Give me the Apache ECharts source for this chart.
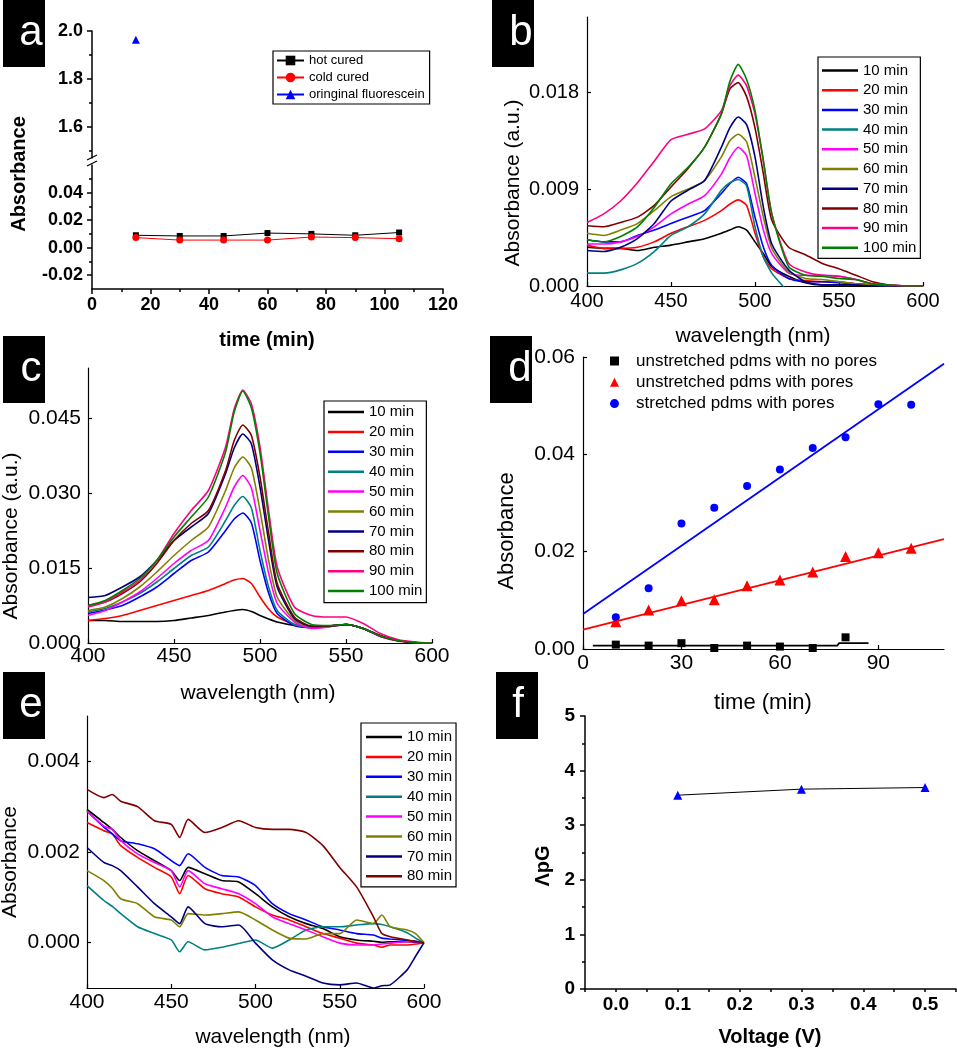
<!DOCTYPE html>
<html>
<head>
<meta charset="utf-8">
<script src="https://cdn.jsdelivr.net/npm/echarts@6/dist/echarts.min.js"></script>
<style>
html, body { margin: 0; padding: 0; background: #fff; }
#main { width: 957px; height: 1050px; }
</style>
</head>
<body>
<div id="main"></div>
<script>
// (a) absorbance vs time
var timeA = [15, 30, 45, 60, 75, 90, 105];
var hotCured = [0.0090, 0.0085, 0.0085, 0.0106, 0.0100, 0.0090, 0.0110];
var coldCured = [0.0073, 0.0055, 0.0055, 0.0055, 0.0077, 0.0073, 0.0065];
var fluorTime = [15];
var fluorAbs = [1.964];

// (b), (c) spectra
var minuteNames = ['10 min', '20 min', '30 min', '40 min', '50 min', '60 min', '70 min', '80 min', '90 min', '100 min'];
var curveColors = ['#000000', '#ff0000', '#0000ff', '#008080', '#ff00ff', '#808000', '#000080', '#800000', '#ff0080', '#008000'];
var wlBC = [400, 410, 420, 430, 440, 450, 460, 470, 480, 485, 490, 495, 500, 505, 510, 520, 530, 540, 550, 560, 570, 580, 590, 600];

var b10 = [0.0036, 0.0035, 0.0035, 0.0033, 0.0036, 0.0038, 0.0041, 0.0044, 0.0049, 0.0052, 0.0055, 0.0052, 0.0041, 0.0030, 0.0018, 0.0009, 0.0003, 0.0001, 0.0001, 0.0001, 0.0000, 0.0000, 0.0000, 0.0000];
var b20 = [0.0038, 0.0035, 0.0035, 0.0036, 0.0041, 0.0049, 0.0055, 0.0061, 0.0070, 0.0076, 0.0080, 0.0075, 0.0049, 0.0027, 0.0016, 0.0007, 0.0005, 0.0004, 0.0004, 0.0002, 0.0001, 0.0000, 0.0000, 0.0000];
var b30 = [0.0043, 0.0041, 0.0041, 0.0047, 0.0052, 0.0058, 0.0064, 0.0070, 0.0086, 0.0095, 0.0101, 0.0095, 0.0064, 0.0036, 0.0019, 0.0007, 0.0004, 0.0004, 0.0003, 0.0002, 0.0001, 0.0000, 0.0000, 0.0000];
var b40 = [0.0012, 0.0012, 0.0015, 0.0021, 0.0032, 0.0047, 0.0055, 0.0067, 0.0089, 0.0096, 0.0099, 0.0093, 0.0055, 0.0027, 0.0012, -0.0006, null, null, null, null, null, null, null, null];
var b50 = [0.0039, 0.0039, 0.0041, 0.0046, 0.0055, 0.0067, 0.0076, 0.0084, 0.0104, 0.0119, 0.0129, 0.0121, 0.0086, 0.0052, 0.0030, 0.0012, 0.0010, 0.0010, 0.0009, 0.0006, 0.0002, 0.0001, 0.0000, 0.0000];
var b60 = [0.0049, 0.0047, 0.0052, 0.0058, 0.0070, 0.0083, 0.0090, 0.0098, 0.0120, 0.0135, 0.0141, 0.0134, 0.0101, 0.0064, 0.0035, 0.0013, 0.0007, 0.0006, 0.0004, 0.0002, 0.0001, 0.0000, 0.0000, 0.0000];
var b70 = [0.0033, 0.0032, 0.0036, 0.0044, 0.0058, 0.0079, 0.0089, 0.0098, 0.0129, 0.0147, 0.0157, 0.0150, 0.0120, 0.0073, 0.0039, 0.0015, 0.0004, 0.0001, 0.0001, 0.0001, 0.0000, 0.0000, 0.0000, 0.0000];
var b80 = [0.0056, 0.0055, 0.0059, 0.0064, 0.0075, 0.0092, 0.0109, 0.0129, 0.0160, 0.0183, 0.0189, 0.0176, 0.0147, 0.0104, 0.0061, 0.0036, 0.0029, 0.0021, 0.0016, 0.0010, 0.0004, 0.0001, 0.0000, 0.0000];
var b90 = [0.0059, 0.0067, 0.0079, 0.0096, 0.0116, 0.0136, 0.0141, 0.0146, 0.0163, 0.0186, 0.0196, 0.0186, 0.0160, 0.0116, 0.0067, 0.0021, 0.0013, 0.0010, 0.0009, 0.0006, 0.0002, 0.0001, 0.0000, 0.0000];
var b100 = [0.0043, 0.0041, 0.0046, 0.0055, 0.0073, 0.0095, 0.0110, 0.0129, 0.0160, 0.0190, 0.0206, 0.0192, 0.0163, 0.0116, 0.0067, 0.0018, 0.0010, 0.0009, 0.0007, 0.0006, 0.0002, 0.0001, 0.0000, 0.0000];

var c10 = [0.0045, 0.0045, 0.0043, 0.0043, 0.0043, 0.0045, 0.0050, 0.0055, 0.0062, 0.0065, 0.0067, 0.0063, 0.0055, 0.0048, 0.0042, 0.0035, 0.0032, 0.0034, 0.0037, 0.0029, 0.0015, 0.0005, 0.0001, 0.0000];
var c20 = [0.0045, 0.0049, 0.0055, 0.0065, 0.0075, 0.0085, 0.0095, 0.0105, 0.0119, 0.0126, 0.0129, 0.0119, 0.0092, 0.0068, 0.0052, 0.0037, 0.0032, 0.0034, 0.0037, 0.0029, 0.0013, 0.0004, 0.0001, 0.0000];
var c30 = [0.0059, 0.0066, 0.0075, 0.0092, 0.0112, 0.0139, 0.0165, 0.0182, 0.0225, 0.0248, 0.0260, 0.0240, 0.0165, 0.0100, 0.0059, 0.0035, 0.0031, 0.0033, 0.0037, 0.0029, 0.0014, 0.0005, 0.0001, 0.0000];
var c40 = [0.0062, 0.0069, 0.0082, 0.0099, 0.0122, 0.0149, 0.0175, 0.0192, 0.0245, 0.0275, 0.0293, 0.0270, 0.0185, 0.0112, 0.0065, 0.0037, 0.0031, 0.0033, 0.0037, 0.0029, 0.0014, 0.0005, 0.0001, 0.0000];
var c50 = [0.0055, 0.0065, 0.0082, 0.0102, 0.0129, 0.0159, 0.0185, 0.0205, 0.0272, 0.0312, 0.0335, 0.0310, 0.0225, 0.0140, 0.0079, 0.0042, 0.0029, 0.0032, 0.0037, 0.0029, 0.0013, 0.0005, 0.0001, 0.0000];
var c60 = [0.0065, 0.0072, 0.0089, 0.0112, 0.0142, 0.0175, 0.0205, 0.0232, 0.0305, 0.0350, 0.0372, 0.0350, 0.0265, 0.0165, 0.0092, 0.0045, 0.0032, 0.0033, 0.0037, 0.0029, 0.0014, 0.0005, 0.0001, 0.0000];
var c70 = [0.0091, 0.0095, 0.0112, 0.0132, 0.0165, 0.0205, 0.0232, 0.0259, 0.0339, 0.0390, 0.0418, 0.0398, 0.0312, 0.0205, 0.0112, 0.0049, 0.0033, 0.0034, 0.0037, 0.0029, 0.0014, 0.0005, 0.0001, 0.0000];
var c80 = [0.0075, 0.0082, 0.0099, 0.0122, 0.0159, 0.0205, 0.0239, 0.0265, 0.0345, 0.0405, 0.0436, 0.0415, 0.0332, 0.0220, 0.0119, 0.0052, 0.0034, 0.0034, 0.0037, 0.0029, 0.0014, 0.0005, 0.0001, 0.0000];
var c90 = [0.0072, 0.0082, 0.0102, 0.0125, 0.0165, 0.0219, 0.0265, 0.0305, 0.0392, 0.0468, 0.0506, 0.0478, 0.0392, 0.0265, 0.0152, 0.0072, 0.0055, 0.0052, 0.0052, 0.0039, 0.0019, 0.0007, 0.0002, 0.0000];
var c100 = [0.0075, 0.0085, 0.0105, 0.0129, 0.0165, 0.0212, 0.0252, 0.0292, 0.0382, 0.0462, 0.0504, 0.0470, 0.0380, 0.0252, 0.0139, 0.0059, 0.0037, 0.0035, 0.0037, 0.0029, 0.0014, 0.0005, 0.0001, 0.0000];

// (d) absorbance vs time, three membranes
var timeD = [10, 20, 30, 40, 50, 60, 70, 80, 90, 100];
var noPores = [0.0009, 0.0007, 0.0012, 0.0002, 0.0007, 0.0005, 0.0002, 0.0024];
var poresUnstretched = [0.0056, 0.0080, 0.0099, 0.0101, 0.0130, 0.0142, 0.0158, 0.0190, 0.0198, 0.0207];
var poresStretched = [0.0065, 0.0125, 0.0258, 0.0290, 0.0335, 0.0369, 0.0413, 0.0435, 0.0503, 0.0502];
var fitNoPoresX = [3, 77.5, 78, 87];
var fitNoPoresY = [0.0007, 0.0007, 0.0012, 0.0012];
var fitUnstretchedX = [0, 110];
var fitUnstretchedY = [0.0040, 0.0226];
var fitStretchedX = [0, 110];
var fitStretchedY = [0.0072, 0.0586];
var dNames = ['unstretched pdms with no pores', 'unstretched pdms with pores', 'stretched pdms with pores'];

// (e) spectra
var wlE = [400, 410, 415, 420, 430, 440, 450, 455, 460, 470, 480, 490, 500, 510, 520, 530, 540, 550, 560, 570, 575, 580, 590, 595, 600];
var e10 = [0.00294, 0.00265, 0.00250, 0.00232, 0.00203, 0.00181, 0.00159, 0.00137, 0.00166, 0.00152, 0.00137, 0.00134, 0.00108, 0.00079, 0.00057, 0.00042, 0.00031, 0.00013, 0.00006, 0.00003, 0.00001, 0.00002, 0.00002, 0.00001, 0.0];
var e20 = [0.00265, 0.00247, 0.00240, 0.00214, 0.00188, 0.00166, 0.00145, 0.00108, 0.00148, 0.00119, 0.00108, 0.00101, 0.00079, 0.00061, 0.00050, 0.00035, 0.00020, 0.00010, -0.00001, -0.00005, -0.00010, -0.00005, -0.00005, -0.00003, 0.0];
var e30 = [0.00290, 0.00255, 0.00240, 0.00225, 0.00218, 0.00207, 0.00181, 0.00170, 0.00196, 0.00166, 0.00148, 0.00145, 0.00126, 0.00086, 0.00064, 0.00050, 0.00035, 0.00028, 0.00020, 0.00017, 0.00010, 0.00008, 0.00005, 0.00003, 0.0];
var e40 = [0.00126, 0.00093, 0.00080, 0.00064, 0.00035, 0.00020, 0.00006, -0.00020, 0.00002, -0.00016, -0.00010, -0.00002, 0.00006, -0.00012, 0.00006, 0.00028, 0.00035, 0.00035, 0.00039, 0.00042, 0.00040, 0.00035, 0.00022, 0.00010, 0.0];
var e50 = [0.00290, 0.00257, 0.00250, 0.00225, 0.00196, 0.00177, 0.00159, 0.00123, 0.00159, 0.00130, 0.00119, 0.00108, 0.00086, 0.00057, 0.00042, 0.00028, 0.00013, -0.00001, -0.00005, -0.00005, -0.00003, -0.00001, 0.00002, 0.00002, 0.0];
var e60 = [0.00159, 0.00137, 0.00120, 0.00097, 0.00086, 0.00057, 0.00050, 0.00035, 0.00064, 0.00061, 0.00064, 0.00068, 0.00050, 0.00028, 0.00010, 0.00008, 0.00020, 0.00020, 0.00050, 0.00042, 0.00061, 0.00035, 0.00028, 0.00020, 0.0];
var e70 = [0.00210, 0.00177, 0.00170, 0.00159, 0.00123, 0.00086, 0.00057, 0.00042, 0.00079, 0.00042, 0.00035, 0.00039, -0.00001, -0.00038, -0.00060, -0.00074, -0.00089, -0.00093, -0.00089, -0.00100, -0.00095, -0.00093, -0.00060, -0.00030, 0.0];
var e80 = [0.00338, 0.00320, 0.00327, 0.00312, 0.00300, 0.00269, 0.00261, 0.00232, 0.00272, 0.00243, 0.00254, 0.00269, 0.00254, 0.00250, 0.00250, 0.00243, 0.00214, 0.00166, 0.00123, 0.00057, 0.00020, 0.00013, 0.00006, 0.00003, 0.0];

// (f) delta pG vs voltage
var voltage = [0.1, 0.3, 0.5];
var dpg = [3.55, 3.66, 3.69];

var FONT = '"Liberation Sans", Arial, sans-serif';

function pairs(xs, ys) {
    return xs.map(function (x, i) { return [x, ys[i]]; });
}

function fixed(n) {
    return function (v) { return Number(v).toFixed(n); };
}

function mkAxis(p) {
    var lw = p.lw || 1.2;
    var ax = {
        gridIndex: p.grid,
        type: 'value',
        min: p.min,
        max: p.max,
        show: p.show !== false,
        splitLine: { show: false },
        axisLine: { show: p.line !== false, onZero: false, lineStyle: { color: '#000', width: lw } },
        axisTick: { show: true, inside: !!p.inside, length: p.tickLen || 4, lineStyle: { color: '#000', width: lw } },
        axisLabel: {
            show: !!p.fmt,
            color: '#000',
            fontFamily: FONT,
            fontSize: p.fs || 20,
            fontWeight: p.bold ? 'bold' : 'normal',
            margin: p.margin || 6,
            formatter: p.fmt
        }
    };
    if (p.pos) ax.position = p.pos;
    if (p.interval != null) ax.interval = p.interval;
    if (p.ticks) ax.axisTick.customValues = p.ticks;
    if (p.labels) ax.axisLabel.customValues = p.labels;
    if (p.minor) {
        ax.minorTick = { show: true, splitNumber: p.minor, length: 3, lineStyle: { color: '#000', width: lw } };
    }
    return ax;
}

var chart = echarts.init(document.getElementById('main'));

var grids = [
    { left: 92, top: 31, width: 351, height: 127 },   // a top
    { left: 92, top: 165, width: 351, height: 124 },  // a bottom
    { left: 587, top: 17, width: 336, height: 269 },  // b
    { left: 88, top: 368, width: 344, height: 275 },  // c
    { left: 583, top: 357, width: 361, height: 292 }, // d
    { left: 87, top: 716, width: 337, height: 272 },  // e
    { left: 585, top: 716, width: 371, height: 273 }  // f
];
grids.forEach(function (g) { g.outerBoundsMode = 'none'; g.containLabel = false; });

var xAxes = [
    mkAxis({ grid: 0, min: 0, max: 120, show: false }),
    mkAxis({ grid: 1, min: 0, max: 120, interval: 20, minor: 2, tickLen: 5, lw: 1.5, fmt: fixed(0), bold: true, fs: 18, margin: 7 }),
    mkAxis({ grid: 2, min: 400, max: 600, interval: 50, inside: true, fmt: fixed(0), fs: 20, margin: 5 }),
    mkAxis({ grid: 3, min: 400, max: 600, interval: 50, inside: true, fmt: fixed(0), fs: 21, margin: 3 }),
    mkAxis({ grid: 4, min: 0, max: 110, ticks: [0, 30, 60, 90], labels: [0, 30, 60, 90], inside: true, fmt: fixed(0), fs: 21, margin: 4 }),
    mkAxis({ grid: 5, min: 400, max: 600, interval: 50, inside: true, fmt: fixed(0), fs: 21, margin: 4 }),
    mkAxis({ grid: 6, min: -0.05, max: 0.55, interval: 0.05, labels: [0, 0.1, 0.2, 0.3, 0.4, 0.5], tickLen: 3, lw: 1.5, fmt: fixed(1), bold: true, fs: 19, margin: 6 })
];

var yAxes = [
    mkAxis({ grid: 0, pos: 'left', min: 1.47, max: 2.0, ticks: [1.6, 1.8, 2.0], labels: [1.6, 1.8, 2.0], tickLen: 5, lw: 1.5, fmt: fixed(1), bold: true, fs: 18, margin: 9 }),
    mkAxis({ grid: 0, pos: 'left', min: 1.47, max: 2.0, ticks: [1.5, 1.7, 1.9], line: false, tickLen: 3, lw: 1.5 }),
    mkAxis({ grid: 1, pos: 'left', min: -0.03, max: 0.06, ticks: [-0.02, 0, 0.02, 0.04], labels: [-0.02, 0, 0.02, 0.04], tickLen: 5, lw: 1.5, fmt: fixed(2), bold: true, fs: 18, margin: 9 }),
    mkAxis({ grid: 1, pos: 'left', min: -0.03, max: 0.06, ticks: [-0.01, 0.01, 0.03, 0.05], line: false, tickLen: 3, lw: 1.5 }),
    mkAxis({ grid: 2, pos: 'left', min: 0, max: 0.025, ticks: [0, 0.009, 0.018], labels: [0, 0.009, 0.018], inside: true, fmt: fixed(3), fs: 20, margin: 8 }),
    mkAxis({ grid: 3, pos: 'left', min: 0, max: 0.055, ticks: [0, 0.015, 0.03, 0.045], labels: [0, 0.015, 0.03, 0.045], inside: true, fmt: fixed(3), fs: 21, margin: 7 }),
    mkAxis({ grid: 4, pos: 'left', min: 0, max: 0.06, interval: 0.02, inside: true, fmt: fixed(2), fs: 21, margin: 8 }),
    mkAxis({ grid: 5, pos: 'left', min: -0.001, max: 0.005, ticks: [0, 0.002, 0.004], labels: [0, 0.002, 0.004], inside: true, fmt: fixed(3), fs: 21, margin: 7 }),
    mkAxis({ grid: 6, pos: 'left', min: 0, max: 5, interval: 1, minor: 2, tickLen: 5, lw: 1.5, fmt: fixed(0), bold: true, fs: 19, margin: 10 })
];

var series = [];

// (a)
series.push({
    name: 'hot cured', type: 'line', xAxisIndex: 1, yAxisIndex: 2,
    data: pairs(timeA, hotCured), symbol: 'rect', symbolSize: 6,
    itemStyle: { color: '#000' }, lineStyle: { color: '#000', width: 1 }
});
series.push({
    name: 'cold cured', type: 'line', xAxisIndex: 1, yAxisIndex: 2,
    data: pairs(timeA, coldCured), symbol: 'circle', symbolSize: 7,
    itemStyle: { color: '#ff0000' }, lineStyle: { color: '#ff0000', width: 1 }
});
series.push({
    name: 'oringinal fluorescein', type: 'line', xAxisIndex: 0, yAxisIndex: 0,
    data: pairs(fluorTime, fluorAbs), symbol: 'triangle', symbolSize: 8,
    itemStyle: { color: '#0000ff' }, lineStyle: { color: '#0000ff', width: 1 }
});

// (b) and (c)
function addCurves(list, xs, xIdx, yIdx) {
    list.forEach(function (ys, i) {
        series.push({
            name: minuteNames[i], type: 'line', xAxisIndex: xIdx, yAxisIndex: yIdx,
            data: pairs(xs, ys), symbol: 'none', smooth: 0.2,
            lineStyle: { color: curveColors[i], width: 1.6 },
            itemStyle: { color: curveColors[i] }
        });
    });
}
addCurves([b10, b20, b30, b40, b50, b60, b70, b80, b90, b100], wlBC, 2, 4);
addCurves([c10, c20, c30, c40, c50, c60, c70, c80, c90, c100], wlBC, 3, 5);

// (d)
series.push({
    name: 'fit no pores', type: 'line', xAxisIndex: 4, yAxisIndex: 6,
    data: pairs(fitNoPoresX, fitNoPoresY), symbol: 'none', lineStyle: { color: '#000', width: 1.8 }
});
series.push({
    name: 'fit unstretched', type: 'line', xAxisIndex: 4, yAxisIndex: 6,
    data: pairs(fitUnstretchedX, fitUnstretchedY), symbol: 'none', lineStyle: { color: '#ff0000', width: 1.8 }
});
series.push({
    name: 'fit stretched', type: 'line', xAxisIndex: 4, yAxisIndex: 6,
    data: pairs(fitStretchedX, fitStretchedY), symbol: 'none', lineStyle: { color: '#0000ff', width: 1.8 }
});
series.push({
    name: dNames[0], type: 'scatter', xAxisIndex: 4, yAxisIndex: 6,
    data: pairs(timeD.slice(0, noPores.length), noPores), symbol: 'rect', symbolSize: 8,
    itemStyle: { color: '#000', opacity: 1 }
});
series.push({
    name: dNames[1], type: 'scatter', xAxisIndex: 4, yAxisIndex: 6,
    data: pairs(timeD, poresUnstretched), symbol: 'triangle', symbolSize: 11,
    itemStyle: { color: '#ff0000', opacity: 1 }
});
series.push({
    name: dNames[2], type: 'scatter', xAxisIndex: 4, yAxisIndex: 6,
    data: pairs(timeD, poresStretched), symbol: 'circle', symbolSize: 8,
    itemStyle: { color: '#0000ff', opacity: 1 }
});

// (e)
addCurves([e10, e20, e30, e40, e50, e60, e70, e80], wlE, 5, 7);

// (f)
series.push({
    name: 'ΛpG', type: 'line', xAxisIndex: 6, yAxisIndex: 8,
    data: pairs(voltage, dpg), symbol: 'triangle', symbolSize: 9,
    itemStyle: { color: '#0000ff' }, lineStyle: { color: '#000', width: 1 }
});

function boxLegend(names, left, top, pad, gap) {
    return {
        data: names, left: left, top: top, orient: 'vertical',
        icon: 'rect', itemWidth: 36, itemHeight: 2.5, itemGap: gap, padding: pad,
        borderColor: '#000', borderWidth: 1.2, backgroundColor: '#fff',
        textStyle: { fontFamily: FONT, fontSize: 15, lineHeight: 15, color: '#000' }
    };
}

var legends = [
    {
        data: ['hot cured', 'cold cured', 'oringinal fluorescein'], left: 273, top: 51, orient: 'vertical',
        itemWidth: 27, itemHeight: 12, itemGap: 4, padding: [3, 5, 3, 3],
        borderColor: '#000', borderWidth: 1.2,
        textStyle: { fontFamily: FONT, fontSize: 13, lineHeight: 12, color: '#000' }
    },
    boxLegend(minuteNames, 818, 57, [6, 4, 3, 4], 4.7),
    boxLegend(minuteNames, 324, 401, [3.5, 4, 4, 4], 4.9),
    boxLegend(minuteNames.slice(0, 8), 361, 723, [6.5, 4, 3, 5], 4.9),
    {
        data: dNames, left: 610, top: 352, orient: 'vertical',
        itemWidth: 9, itemHeight: 9, itemGap: 3.3, padding: 0,
        itemStyle: { opacity: 1 },
        textStyle: { fontFamily: FONT, fontSize: 17, lineHeight: 18, color: '#000', padding: [0, 0, 0, 12] }
    }
];

// panel tags, axis titles and the axis break of (a)
var graphics = [];
var panelTags = [['a', 3, 0, 31], ['b', 492, 0, 521], ['c', 3, 336, 31], ['d', 490, 336, 520], ['e', 3, 672, 31], ['f', 496, 672, 518]];
panelTags.forEach(function (t) {
    graphics.push({ type: 'rect', silent: true, shape: { x: t[1], y: t[2], width: 42, height: 67 }, style: { fill: '#000' } });
    graphics.push({ type: 'text', silent: true, x: t[3], y: t[2] + 33,
        style: { text: t[0], fill: '#fff', font: '42px ' + FONT, align: 'center', verticalAlign: 'middle' } });
});

function title(text, x, y, size, bold, rotate) {
    graphics.push({
        type: 'text', silent: true, x: x, y: y, rotation: rotate ? Math.PI / 2 : 0,
        style: { text: text, fill: '#000', font: (bold ? 'bold ' : '') + size + 'px ' + FONT, align: 'center', verticalAlign: 'middle' }
    });
}
title('time (min)', 267, 340, 20, true, false);
title('Absorbance', 19, 174, 20, true, true);
title('wavelength (nm)', 753, 336, 21, false, false);
title('Absorbance (a.u.)', 513, 183, 21, false, true);
title('wavelength (nm)', 258, 693, 21, false, false);
title('Absorbance (a.u.)', 11, 536, 21, false, true);
title('time (min)', 763, 703, 22, false, false);
title('Absorbance', 507, 531, 22, false, true);
title('wavelength (nm)', 273, 1037, 21, false, false);
title('Absorbance', 10, 862, 21, false, true);
title('Voltage (V)', 770, 1037, 20, true, false);
title('ΛpG', 543, 866, 20, true, true);

graphics.push({ type: 'line', silent: true, shape: { x1: 87, y1: 160, x2: 97, y2: 155 }, style: { stroke: '#000', lineWidth: 1.2 } });
graphics.push({ type: 'line', silent: true, shape: { x1: 87, y1: 166, x2: 97, y2: 161 }, style: { stroke: '#000', lineWidth: 1.2 } });

chart.setOption({
    animation: false,
    backgroundColor: '#fff',
    grid: grids,
    xAxis: xAxes,
    yAxis: yAxes,
    legend: legends,
    series: series,
    graphic: graphics
});

window.onresize = function () {
    chart.resize();
};
</script>
</body>
</html>
